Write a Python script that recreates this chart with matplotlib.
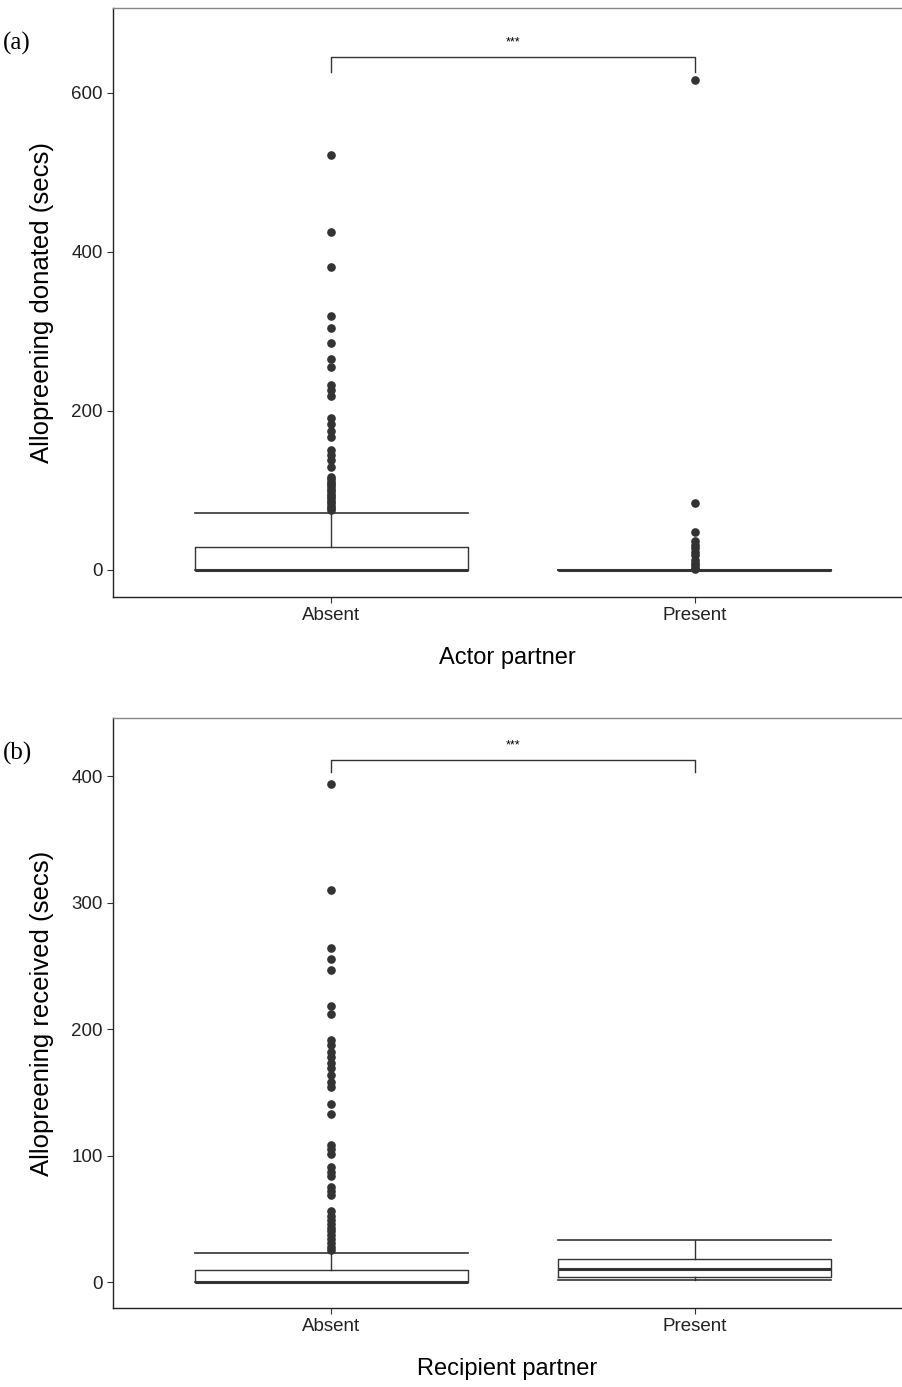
import matplotlib
matplotlib.use("Agg")
import matplotlib.pyplot as plt

plt.rcParams['font.family'] = ['Liberation Sans', 'DejaVu Sans']

categorias = ['Absent', 'Present']

# (a) allopreening donated, summary stats per group
donado_stats = [
    dict(whislo=0, q1=0, med=0, q3=29, whishi=72),
    dict(whislo=0, q1=0, med=0, q3=0, whishi=0),
]
donado_outliers_absent = [522, 425, 381, 320, 304, 285, 265, 255, 233, 226, 219,
                          191, 183, 175, 167, 151, 145, 138, 130,
                          117, 114, 111, 108, 105, 102, 99, 96, 93, 90, 87, 84, 81, 78, 75]
donado_outliers_present = [616, 84, 48, 36, 31, 27, 23, 19, 12, 9, 6, 3, 1]

# (b) allopreening received
recibido_stats = [
    dict(whislo=0, q1=0, med=0, q3=9.5, whishi=22.7),
    dict(whislo=1.5, q1=3.7, med=10, q3=18, whishi=33),
]
recibido_outliers_absent = [394, 310, 264, 255, 247, 218, 212, 191, 187, 182, 178,
                            173, 169, 164, 158, 154, 141, 133, 108, 105, 101, 91,
                            87, 84, 75, 72, 69, 56, 52, 49, 46, 43, 40, 37, 34, 31, 28, 25]
recibido_outliers_present = []

COLOR = '#333333'


def dibujar_panel(ax, stats, outliers, ylim, yticks, ylabel, xlabel, corchete, letra):
    for s, fl, lab in zip(stats, outliers, categorias):
        s['fliers'] = fl
        s['label'] = lab
    ax.bxp(stats, positions=[1, 2], widths=0.75, capwidths=0.75,
           boxprops=dict(color=COLOR, linewidth=1.0),
           whiskerprops=dict(color=COLOR, linewidth=1.0),
           capprops=dict(color=COLOR, linewidth=1.2),
           medianprops=dict(color=COLOR, linewidth=2.2),
           flierprops=dict(marker='o', markerfacecolor=COLOR, markeredgecolor=COLOR,
                           markersize=5.2, linestyle='none'))
    ax.set_xlim(0.4, 2.57)
    ax.set_ylim(*ylim)
    ax.set_yticks(yticks)
    ax.set_yticklabels([str(t) for t in yticks])
    ax.tick_params(axis='both', colors='#333333', labelsize=13.5, length=4, width=0.8,
                   labelcolor='#222222')
    ax.set_ylabel(ylabel, fontsize=18.5, labelpad=12)
    ax.set_xlabel(xlabel, fontsize=17, labelpad=16)
    ax.spines['right'].set_visible(False)
    ax.spines['top'].set_color('#888888')
    ax.spines['top'].set_linewidth(1.0)
    for sp in ('left', 'bottom'):
        ax.spines[sp].set_color('#222222')
        ax.spines[sp].set_linewidth(1.0)

    # significance bracket
    alto, bajo, estrellas = corchete
    ax.plot([1, 1, 2, 2], [bajo, alto, alto, bajo], color=COLOR, linewidth=1.0)
    ax.text(1.5, estrellas, '***', ha='center', va='center', fontsize=9)
    ax.text(-0.14, 0.94, letra, transform=ax.transAxes, fontsize=18,
            family=['Liberation Serif'], ha='left', va='center')


fig = plt.figure(figsize=(9.02, 13.87), dpi=100)
ax1 = fig.add_axes([0.1253, 0.5696, 0.8747, 0.4247])
ax2 = fig.add_axes([0.1253, 0.0570, 0.8747, 0.4254])

dibujar_panel(ax1, donado_stats, [donado_outliers_absent, donado_outliers_present],
              (-34, 707), [0, 200, 400, 600], 'Allopreening donated (secs)',
              'Actor partner', (645, 626, 664), '(a)')
dibujar_panel(ax2, recibido_stats, [recibido_outliers_absent, recibido_outliers_present],
              (-20.5, 446), [0, 100, 200, 300, 400], 'Allopreening received (secs)',
              'Recipient partner', (413, 403, 424.5), '(b)')

fig.savefig('out.png', dpi=100)
